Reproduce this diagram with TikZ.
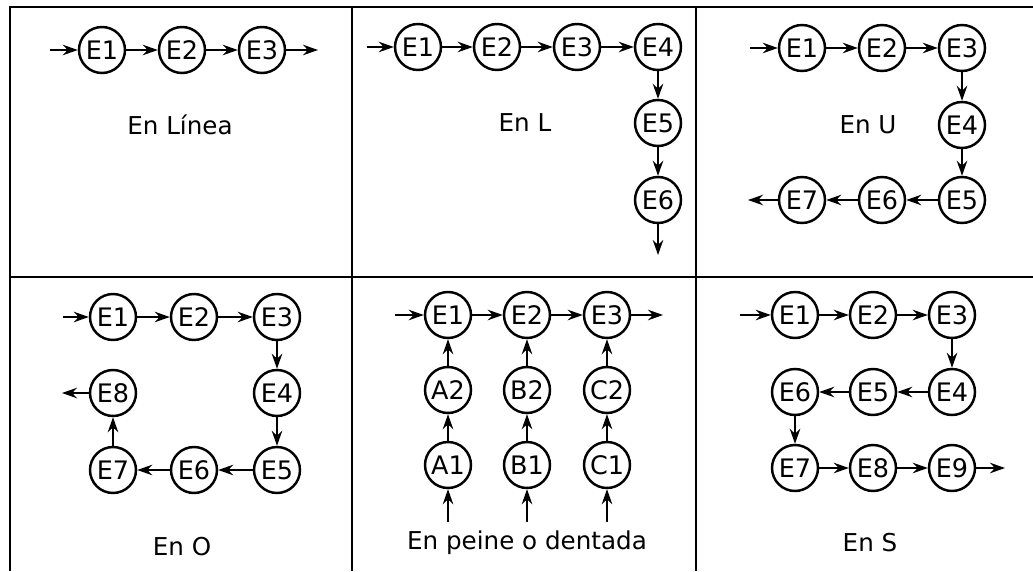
\documentclass[tikz,border=0pt]{standalone}
\usepackage{fontspec}
\setmainfont{DejaVu Sans}
\usetikzlibrary{arrows.meta}
\tikzset{est/.style = {draw, circle, line width=1.4pt, minimum size=0.92cm, inner sep=0, font=\fontsize{14.5}{16}\selectfont},
         flujo/.style = {-{Stealth[length=3mm,width=2.1mm]}, line width=0.9pt},
         rotulo/.style = {font=\fontsize{14}{16}\selectfont}}

\begin{document}
\begin{tikzpicture}[x=0.02cm, y=-0.02cm]
    \useasboundingbox (0,0) rectangle (1033,571);
    % cuadricula
    \draw [line width=1.3pt] (10,571) -- (10,7) -- (1033,7) (10,277) -- (1033,277) (352,7) -- (352,571) (696,7) -- (696,571);

    % en linea
    \foreach \n/\x in {1/102,2/182,3/262} \node [est] (lin\n) at (\x,50) {E\n};
    \coordinate (lin0) at (50,50); \coordinate (linf) at (318,50);
    \foreach \a/\b in {lin0/lin1,lin1/lin2,lin2/lin3,lin3/linf} \draw [flujo] (\a) -- (\b);
    \node [rotulo] (tlin) at (180,125) {En Línea};

    % en L
    \foreach \n/\x/\y in {1/418/47,2/497/47,3/577/47,4/658/47,5/658/123,6/658/200} \node [est] (L\n) at (\x,\y) {E\n};
    \coordinate (L0) at (367,47); \coordinate (Lf) at (658,255);
    \foreach \a/\b in {L0/L1,L1/L2,L2/L3,L3/L4,L4/L5,L5/L6,L6/Lf} \draw [flujo] (\a) -- (\b);
    \node [rotulo] (tL) at (525,123) {En L};

    % en U
    \foreach \n/\x/\y in {1/802/48,2/882/48,3/962/48,4/962/125,5/962/200,6/882/200,7/802/200} \node [est] (U\n) at (\x,\y) {E\n};
    \coordinate (U0) at (750,48); \coordinate (Uf) at (748,200);
    \foreach \a/\b in {U0/U1,U1/U2,U2/U3,U3/U4,U4/U5,U5/U6,U6/U7,U7/Uf} \draw [flujo] (\a) -- (\b);
    \node [rotulo] (tU) at (868,125) {En U};

    % en O
    \foreach \n/\x/\y in {1/113/317,2/194/317,3/277/317,4/277/393,5/277/470,6/194/470,7/113/470,8/113/393} \node [est] (O\n) at (\x,\y) {E\n};
    \coordinate (O0) at (63,317); \coordinate (Of) at (62,393);
    \foreach \a/\b in {O0/O1,O1/O2,O2/O3,O3/O4,O4/O5,O5/O6,O6/O7,O7/O8,O8/Of} \draw [flujo] (\a) -- (\b);
    \node [rotulo] (tO) at (182,547) {En O};

    % en peine
    \foreach \n/\x in {1/448,2/527,3/607} \node [est] (P\n) at (\x,315) {E\n};
    \coordinate (P0) at (395,315); \coordinate (Pf) at (663,315);
    \foreach \a/\b in {P0/P1,P1/P2,P2/P3,P3/Pf} \draw [flujo] (\a) -- (\b);
    \foreach \r/\x [count=\i] in {A/448,B/527,C/607} {
        \node [est] (\r2) at (\x,390) {\r2};
        \node [est] (\r1) at (\x,465) {\r1};
        \coordinate (\r0) at (\x,522);
        \draw [flujo, line width=0.6pt] (\r0) -- (\r1);
        \draw [flujo] (\r1) -- (\r2);
        \draw [flujo] (\r2) -- (P\i);
    }
    \node [rotulo] (tP) at (527,543) {En peine o dentada};

    % en S
    \foreach \n/\x/\y in {1/795/315,2/873/315,3/952/315,4/952/392,5/873/392,6/795/392,7/795/468,8/873/468,9/952/468} \node [est] (S\n) at (\x,\y) {E\n};
    \coordinate (S0) at (740,315); \coordinate (Sf) at (1005,468);
    \foreach \a/\b in {S0/S1,S1/S2,S2/S3,S3/S4,S4/S5,S5/S6,S6/S7,S7/S8,S8/S9,S9/Sf} \draw [flujo] (\a) -- (\b);
    \node [rotulo] (tS) at (870,543) {En S};
\end{tikzpicture}
\end{document}
